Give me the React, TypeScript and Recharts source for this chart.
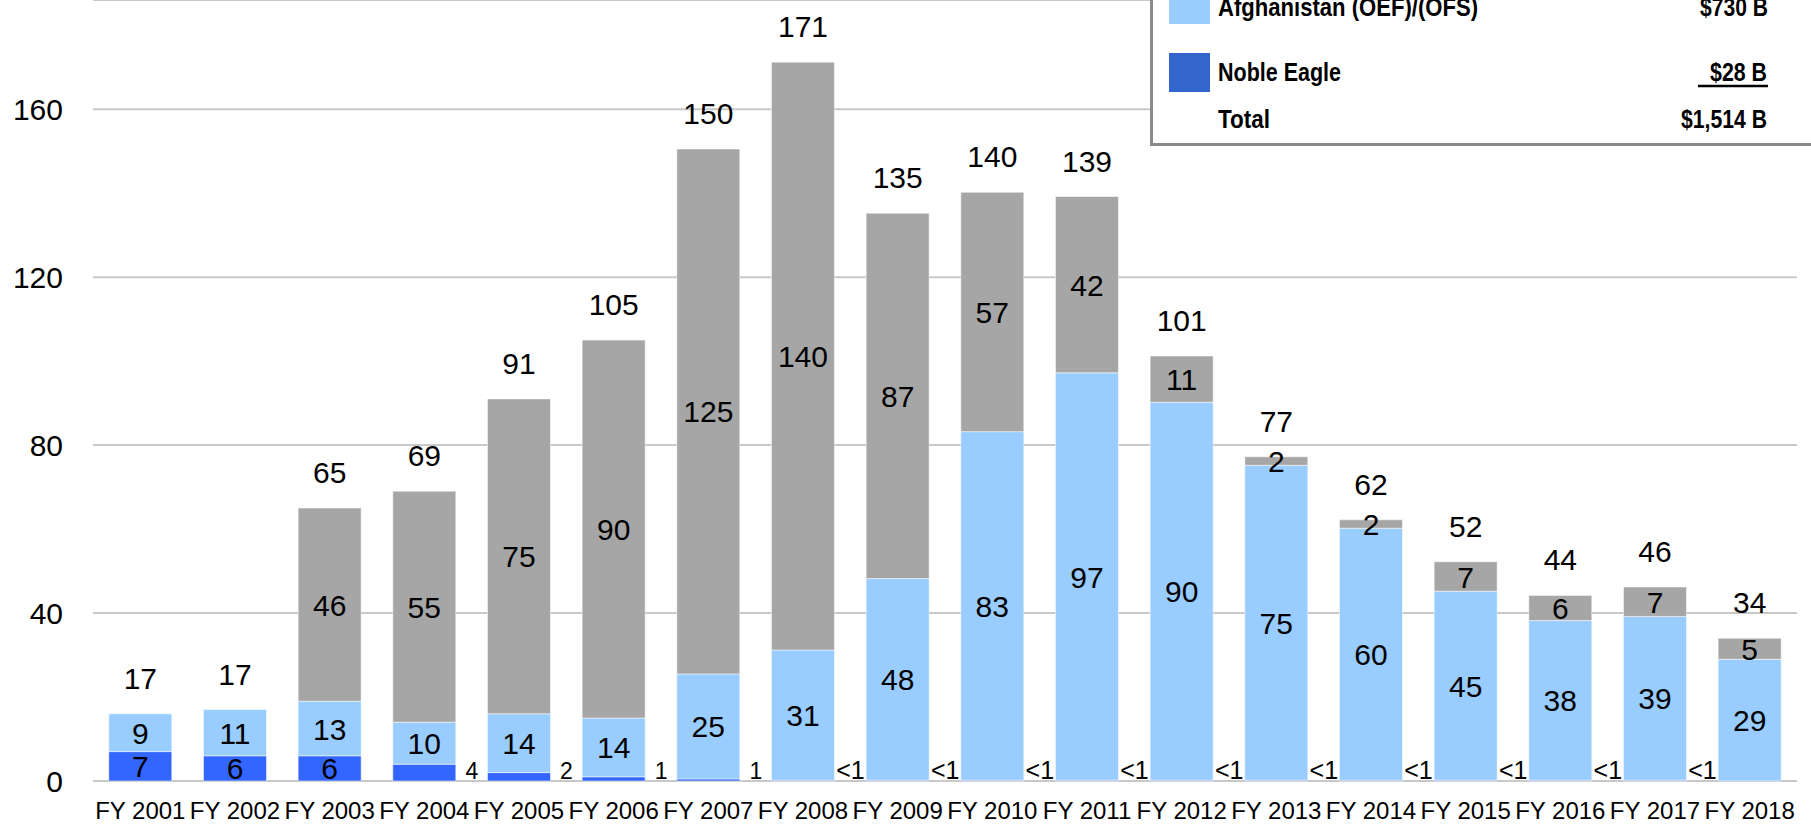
import React from "react";
import { ComposedChart, Bar, Line, XAxis, YAxis, CartesianGrid, LabelList } from "recharts";

const years = [
  "FY 2001", "FY 2002", "FY 2003", "FY 2004", "FY 2005", "FY 2006", "FY 2007", "FY 2008", "FY 2009",
  "FY 2010", "FY 2011", "FY 2012", "FY 2013", "FY 2014", "FY 2015", "FY 2016", "FY 2017", "FY 2018",
];
const nobleEagle = [7, 6, 6, 4, 2, 1, 0.5, 0.2, 0.2, 0.2, 0.2, 0.2, 0.2, 0.2, 0.2, 0.2, 0.2, 0];
const nobleLabels = ["7", "6", "6", "4", "2", "1", "1", "<1", "<1", "<1", "<1", "<1", "<1", "<1", "<1", "<1", "<1", ""];
const afghanistan = [9, 11, 13, 10, 14, 14, 25, 31, 48, 83, 97, 90, 75, 60, 45, 38, 39, 29];
const iraq = [0, 0, 46, 55, 75, 90, 125, 140, 87, 57, 42, 11, 2, 2, 7, 6, 7, 5];
const totals = [17, 17, 65, 69, 91, 105, 150, 171, 135, 140, 139, 101, 77, 62, 52, 44, 46, 34];
const yTicks = [0, 40, 80, 120, 160];

const data = years.map((name, i) => ({
  name,
  noble: nobleEagle[i],
  nobleText: nobleLabels[i],
  afg: afghanistan[i],
  iraq: iraq[i],
  iraqText: iraq[i] > 0 ? String(iraq[i]) : "",
  top: nobleEagle[i] + afghanistan[i] + iraq[i],
  totalText: String(totals[i]),
}));

const FONT = "'Liberation Sans', Arial, sans-serif";

// label centred inside a stacked segment
const inside = (props: any) => {
  const { x, y, width, height, value } = props;
  if (value === "" || value == null) return null;
  return (
    <text x={Number(x) + Number(width) / 2} y={Number(y) + Number(height) / 2 + 11}
      textAnchor="middle" fontSize={30} fontFamily={FONT} fill="#000">
      {value}
    </text>
  );
};

const nobleLabel = (props: any) => {
  const { x, y, width, height, value } = props;
  if (!value) return null;
  if (Math.abs(Number(height)) > 20) return inside(props);
  // small values sit beside the bar, near the baseline
  return (
    <text x={Number(x) + Number(width) + 16} y={779}
      textAnchor="middle" fontSize={value === "<1" ? 25 : 23} fontFamily={FONT} fill="#000">
      {value}
    </text>
  );
};

const totalLabel = (props: any) => {
  const { x, y, value } = props;
  return (
    <text x={Number(x)} y={Number(y) - 25} textAnchor="middle" fontSize={30} fontFamily={FONT} fill="#000">
      {value}
    </text>
  );
};

const legendText = { fontFamily: FONT, fontWeight: "bold" as const, fontSize: 26, fill: "#000" };

export default function App() {
  return (
    <div style={{ position: "relative", width: 1811, height: 824, overflow: "hidden", background: "#fff" }}>
      <style>{`body{margin:0}`}</style>
      <ComposedChart width={1811} height={824} data={data}
        margin={{ top: 0, right: 14, bottom: 0, left: 0 }} barCategoryGap="16.7%">
        <CartesianGrid vertical={false} stroke="#C8C8C8" strokeWidth={2} />
        <XAxis dataKey="name" axisLine={false} tickLine={false} tickSize={0} tickMargin={21} height={43}
          interval={0} tick={{ fontSize: 24, fontFamily: FONT, fill: "#000" }} />
        <YAxis domain={[0, 186]} ticks={yTicks} axisLine={false} tickLine={false} tickSize={0} tickMargin={30}
          width={93} tick={{ fontSize: 30, fontFamily: FONT, fill: "#000" }} />
        <Bar dataKey="noble" stackId="a" fill="#3366FF" stroke="#ffffff" strokeOpacity={0.5} isAnimationActive={false}>
          <LabelList dataKey="nobleText" content={nobleLabel} />
        </Bar>
        <Bar dataKey="afg" stackId="a" fill="#99CCFF" stroke="#ffffff" strokeOpacity={0.5} isAnimationActive={false}>
          <LabelList dataKey="afg" content={inside} />
        </Bar>
        <Bar dataKey="iraq" stackId="a" fill="#A6A6A6" stroke="#ffffff" strokeOpacity={0.5} isAnimationActive={false}>
          <LabelList dataKey="iraqText" content={inside} />
        </Bar>
        <Line dataKey="top" stroke="none" dot={false} activeDot={false} isAnimationActive={false}>
          <LabelList dataKey="totalText" content={totalLabel} />
        </Line>
      </ComposedChart>

      {/* legend box, its top runs off the page */}
      <div style={{
        position: "absolute", left: 1150, top: -200, width: 800, height: 343, background: "#fff",
        borderLeft: "3px solid #8a8a8a", borderBottom: "3px solid #8a8a8a",
      }} />
      <svg width={1811} height={824} style={{ position: "absolute", left: 0, top: 0, pointerEvents: "none" }}>
        <rect x={1169} y={-17} width={41} height={41} fill="#99CCFF" />
        <rect x={1169} y={53} width={41} height={39} fill="#3366CC" />
        <g {...legendText}>
          <text x={1218} y={16} textLength={260} lengthAdjust="spacingAndGlyphs">Afghanistan (OEF)/(OFS)</text>
          <text x={1218} y={81} textLength={123} lengthAdjust="spacingAndGlyphs">Noble Eagle</text>
          <text x={1218} y={128} textLength={52} lengthAdjust="spacingAndGlyphs">Total</text>
          <text x={1700} y={16} textLength={68} lengthAdjust="spacingAndGlyphs">$730 B</text>
          <text x={1710} y={81} textLength={57} lengthAdjust="spacingAndGlyphs">$28 B</text>
          <text x={1681} y={128} textLength={86} lengthAdjust="spacingAndGlyphs">$1,514 B</text>
        </g>
        <line x1={1698} x2={1768} y1={86} y2={86} stroke="#000" strokeWidth={2.5} />
      </svg>
    </div>
  );
}
